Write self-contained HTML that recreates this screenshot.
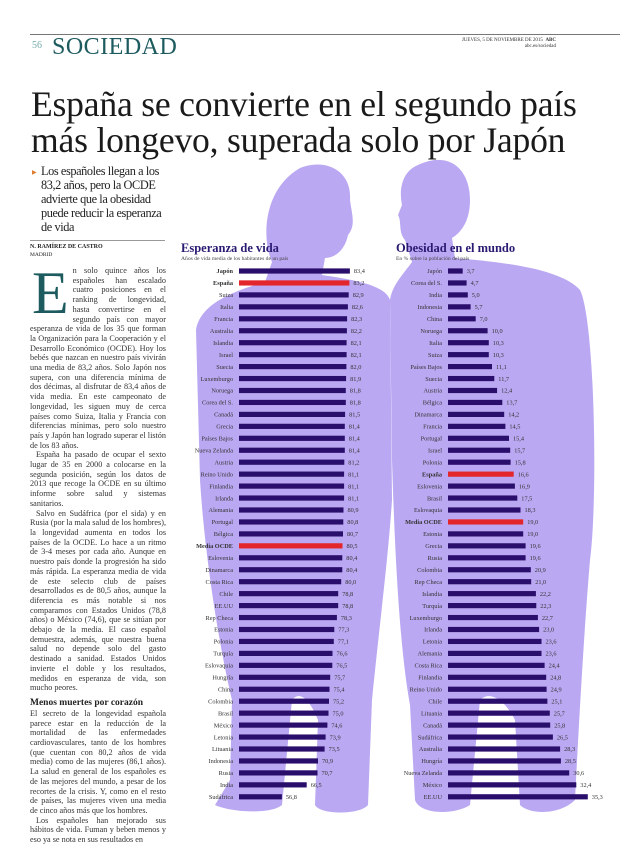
<!DOCTYPE html>
<html><head><meta charset="utf-8">
<style>
body{margin:0;background:#fff;}
#p{position:relative;width:620px;height:846px;overflow:hidden;background:#fff;font-family:"Liberation Serif",serif;color:#222;}
.a{position:absolute;}
.body{font-size:8.2px;line-height:9.7px;text-align:justify;color:#333;}
.body p{margin:0;text-indent:6px;}
</style></head><body><div id="p">
<div class="a" style="left:30px;top:34px;width:590px;border-top:1px solid #777;"></div>
<div class="a" style="left:32px;top:40px;font-size:10px;color:#7aa;">56</div>
<div class="a" style="left:52px;top:34px;font-size:24px;color:#1d5b5f;letter-spacing:0.5px;">SOCIEDAD</div>
<div class="a" style="left:440px;top:38px;width:116px;font-size:5px;line-height:6px;text-align:right;color:#333;">JUEVES, 5 DE NOVIEMBRE DE 2015 &nbsp;<b>ABC</b><br>abc.es/sociedad</div>
<div class="a" style="left:31px;top:86px;font-size:35.6px;line-height:36px;color:#1a1a1a;white-space:nowrap;letter-spacing:-0.2px;">España se convierte en el segundo país<br>más longevo, superada solo por Japón</div>
<div class="a" style="left:32px;top:169px;font-size:6px;color:#e07a2a;">▶</div>
<div class="a" style="left:41px;top:164px;width:132px;font-size:12.3px;line-height:14px;letter-spacing:-0.4px;color:#222;">Los españoles llegan a los 83,2 años, pero la OCDE advierte que la obesidad puede reducir la esperanza de vida</div>
<div class="a" style="left:30px;top:240px;width:135px;border-top:1px solid #999;"></div>
<div class="a" style="left:30px;top:244px;font-size:6px;font-weight:bold;">N. RAMÍREZ DE CASTRO</div>
<div class="a" style="left:30px;top:252px;font-size:5.5px;">MADRID</div>
<div class="a body" style="left:30px;top:266px;width:136px;">
<span style="float:left;font-size:60px;line-height:50px;color:#1d5b5f;margin:2px 4px 0 2px;">E</span>n solo quince años los españoles han escalado cuatro posiciones en el ranking de longevidad, hasta convertirse en el segundo país con mayor esperanza de vida de los 35 que forman la Organización para la Cooperación y el Desarrollo Económico (OCDE). Hoy los bebés que nazcan en nuestro país vivirán una media de 83,2 años. Solo Japón nos supera, con una diferencia mínima de dos décimas, al disfrutar de 83,4 años de vida media. En este campeonato de longevidad, les siguen muy de cerca países como Suiza, Italia y Francia con diferencias mínimas, pero solo nuestro país y Japón han logrado superar el listón de los 83 años.
<p>España ha pasado de ocupar el sexto lugar de 35 en 2000 a colocarse en la segunda posición, según los datos de 2013 que recoge la OCDE en su último informe sobre salud y sistemas sanitarios.</p>
<p>Salvo en Sudáfrica (por el sida) y en Rusia (por la mala salud de los hombres), la longevidad aumenta en todos los países de la OCDE. Lo hace a un ritmo de 3-4 meses por cada año. Aunque en nuestro país donde la progresión ha sido más rápida. La esperanza media de vida de este selecto club de países desarrollados es de 80,5 años, aunque la diferencia es más notable si nos comparamos con Estados Unidos (78,8 años) o México (74,6), que se sitúan por debajo de la media. El caso español demuestra, además, que nuestra buena salud no depende solo del gasto destinado a sanidad. Estados Unidos invierte el doble y los resultados, medidos en esperanza de vida, son mucho peores.</p>
<div style="font-size:9.5px;font-weight:bold;line-height:11px;margin-top:5px;color:#222;">Menos muertes por corazón</div>
El secreto de la longevidad española parece estar en la reducción de la mortalidad de las enfermedades cardiovasculares, tanto de los hombres (que cuentan con 80,2 años de vida media) como de las mujeres (86,1 años). La salud en general de los españoles es de las mejores del mundo, a pesar de los recortes de la crisis. Y, como en el resto de países, las mujeres viven una media de cinco años más que los hombres.
<p>Los españoles han mejorado sus hábitos de vida. Fuman y beben menos y eso ya se nota en sus resultados en</p>
</div>
<svg class="a" style="left:0;top:0" width="620" height="846" font-family="Liberation Serif,serif">
<g fill="#bba8f2">
<path d="M300,168 C325,158 352,170 350,200 C352,215 356,225 348,235 C345,250 335,258 325,258 L322,275 C355,280 385,285 390,300 L392,500 C388,560 380,620 372,700 L368,805 C360,815 320,815 315,805 L318,720 C310,700 300,690 292,700 L282,805 C270,815 230,812 215,805 L230,780 L232,700 C220,650 205,560 200,480 L196,330 C200,305 230,292 265,282 L272,262 C262,240 262,190 300,168 Z"/>
<path d="M418,165 C450,150 470,170 470,200 C470,220 462,232 452,238 L455,258 C500,262 560,268 580,290 C595,320 598,500 590,560 C585,620 580,700 575,800 C560,815 530,815 520,805 L515,720 C505,700 490,690 480,700 L470,805 C455,815 420,815 415,800 L410,705 C400,650 395,560 392,460 L390,300 C392,285 405,272 412,262 L405,240 C398,232 402,222 398,215 L402,205 C398,185 405,170 418,165 Z"/>
</g>
<text x="181" y="252" font-size="12.5" font-weight="bold" fill="#2b1a72">Esperanza de vida</text>
<text x="181" y="260" font-size="5.6" fill="#444">Años de vida media de los habitantes de un país</text>
<text x="396" y="252" font-size="12.5" font-weight="bold" fill="#2b1a72">Obesidad en el mundo</text>
<text x="396" y="260" font-size="5.6" fill="#444">En % sobre la población del país</text>
<g id="L" font-size="6.3" fill="#333"></g>
<g id="R" font-size="6.3" fill="#333"></g>
</svg>
<script>
var L=[["Japón",83.4,1],["España",83.2,2],["Suiza",82.9],["Italia",82.6],["Francia",82.3],["Australia",82.2],["Islandia",82.1],["Israel",82.1],["Suecia",82.0],["Luxemburgo",81.9],["Noruega",81.8],["Corea del S.",81.8],["Canadá",81.5],["Grecia",81.4],["Países Bajos",81.4],["Nueva Zelanda",81.4],["Austria",81.2],["Reino Unido",81.1],["Finlandia",81.1],["Irlanda",81.1],["Alemania",80.9],["Portugal",80.8],["Bélgica",80.7],["Media OCDE",80.5,2],["Eslovenia",80.4],["Dinamarca",80.4],["Costa Rica",80.0],["Chile",78.8],["EE.UU",78.8],["Rep Checa",78.3],["Estonia",77.3],["Polonia",77.1],["Turquía",76.6],["Eslovaquia",76.5],["Hungría",75.7],["China",75.4],["Colombia",75.2],["Brasil",75.0],["México",74.6],["Letonia",73.9],["Lituania",73.5],["Indonesia",70.9],["Rusia",70.7],["India",66.5],["Sudáfrica",56.8]];
var R=[["Japón",3.7],["Corea del S.",4.7],["India",5.0],["Indonesia",5.7],["China",7.0],["Noruega",10.0],["Italia",10.3],["Suiza",10.3],["Países Bajos",11.1],["Suecia",11.7],["Austria",12.4],["Bélgica",13.7],["Dinamarca",14.2],["Francia",14.5],["Portugal",15.4],["Israel",15.7],["Polonia",15.8],["España",16.6,2],["Eslovenia",16.9],["Brasil",17.5],["Eslovaquia",18.3],["Media OCDE",19.0,2],["Estonia",19.0],["Grecia",19.6],["Rusia",19.6],["Colombia",20.9],["Rep Checa",21.0],["Islandia",22.2],["Turquía",22.3],["Luxemburgo",22.7],["Irlanda",23.0],["Letonia",23.6],["Alemania",23.6],["Costa Rica",24.4],["Finlandia",24.8],["Reino Unido",24.9],["Chile",25.1],["Lituania",25.7],["Canadá",25.8],["Sudáfrica",26.5],["Australia",28.3],["Hungría",28.5],["Nueva Zelanda",30.6],["México",32.4],["EE.UU",35.3]];
function draw(id,data,lx,bx,f){var g=document.getElementById(id),s="";
data.forEach(function(d,i){var y=271+i*11.95,w=f(d[1]),red=d[2]==2,b=d[2];
s+='<text x="'+lx+'" y="'+(y+2.2)+'" text-anchor="end"'+(b?' font-weight="bold"':'')+'>'+d[0]+'</text>';
s+='<rect x="'+bx+'" y="'+(y-2.6)+'" width="'+w.toFixed(1)+'" height="5.2" fill="'+(red?'#e3262b':'#2a0e6b')+'"/>';
s+='<text x="'+(bx+w+4).toFixed(1)+'" y="'+(y+2.2)+'">'+d[1].toFixed(1).replace('.',',')+'</text>';});
g.innerHTML=s;}
draw("L",L,233,239,function(v){return (v-40)*2.556});
draw("R",R,442,448,function(v){return v*3.96});
</script>
</div></body></html>
